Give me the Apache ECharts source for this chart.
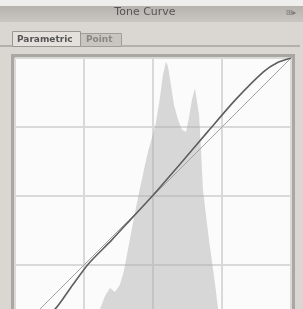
<!DOCTYPE html>
<html>
<head>
<meta charset="utf-8">
<script src="https://cdn.jsdelivr.net/npm/echarts@6/dist/echarts.min.js"></script>
<style>
html,body{margin:0;padding:0;overflow:hidden;background:#dad6d2;}
#c{width:303px;height:345px;}
</style>
</head>
<body>
<div id="c"></div>
<script>
// Tone curve panel data (percent of input / output range)
const panelTitle = 'Tone Curve';
const tabLabels = ['Parametric', 'Point'];
const gridTicks = [0, 25, 50, 75, 100];

// Histogram: input level (%) and relative count (% of max)
const histLevel = [20, 25, 28, 29.5, 30.8, 32.6, 34.4, 36.2, 38, 39.5, 40.9, 42.8, 44.9, 47.1, 48.2, 49.6, 51.1, 52.5, 53.6, 54.7, 55.4, 56.5, 57.6, 59.1, 60.5, 62, 63, 64.1, 65.2, 65.9, 66.7, 67.4, 68.1, 69.2, 70.3, 71.4, 72.5, 73.6, 75, 76.4, 80];
const histCount = [0, 1, 3, 6, 9, 13.8, 16.7, 15.2, 17.8, 23, 30.4, 40.6, 51, 61.2, 66, 71, 76.8, 85.5, 93.8, 98.6, 97, 90.2, 83, 77.5, 74, 73.2, 78.3, 84.8, 89, 88.4, 79.3, 66.7, 52.2, 43, 34, 26, 17.8, 9, 3, 0.5, 0];

// Tone curve: input (%) -> output (%)
const curveIn  = [0, 8, 14.5, 20, 26.5, 35, 42, 50, 60, 70, 80, 90, 95, 100];
const curveOut = [0, 4.5, 9, 16.5, 25.3, 34, 41.6, 50.3, 61.8, 73.5, 85, 95, 98.3, 100];

// Identity reference line
const identityIn  = [0, 100];
const identityOut = [0, 100];

const zip = (a, b) => a.map((v, i) => [v, b[i]]);

const chart = echarts.init(document.getElementById('c'), null, {renderer: 'canvas'});
chart.setOption({
  backgroundColor: '#dad6d2',
  animation: false,
  grid: {left: 15, top: 58, width: 276, height: 276, show: true,
         backgroundColor: '#fbfbfb', borderColor: '#8e8a86', borderWidth: 1.5},
  xAxis: {type: 'value', min: 0, max: 100, interval: 25,
          axisLine: {show: false}, axisTick: {show: false}, axisLabel: {show: false},
          splitLine: {show: true, lineStyle: {color: '#d9d9d9', width: 2}}},
  yAxis: [
    {type: 'value', min: 0, max: 100, interval: 25,
     axisLine: {show: false}, axisTick: {show: false}, axisLabel: {show: false},
     splitLine: {show: true, lineStyle: {color: '#d9d9d9', width: 2}}},
    {type: 'value', min: 0, max: 100, show: false, splitLine: {show: false}}
  ],
  series: [
    {type: 'line', yAxisIndex: 1, data: zip(histLevel, histCount), showSymbol: false,
     lineStyle: {width: 0}, areaStyle: {color: 'rgba(169,169,169,0.44)', opacity: 1}, z: 1, silent: true},
    {type: 'line', data: zip(identityIn, identityOut), showSymbol: false,
     lineStyle: {color: '#a2a2a2', width: 1}, z: 2, silent: true},
    {type: 'line', data: zip(curveIn, curveOut), smooth: 0.25, showSymbol: false,
     lineStyle: {color: '#5e5e5e', width: 1.6}, z: 3, silent: true}
  ],
  graphic: [
    {type: 'rect', shape: {x: 0, y: 0, width: 303, height: 6}, style: {fill: '#eeeeec'}},
    {type: 'rect', shape: {x: 0, y: 6, width: 303, height: 16},
     style: {fill: new echarts.graphic.LinearGradient(0, 0, 0, 1, [{offset: 0, color: '#b6b2ae'}, {offset: 1, color: '#cac6c2'}])}},
    {type: 'text', x: 145, y: 12, style: {text: panelTitle, fill: '#555', font: '11px "DejaVu Sans"', align: 'center', verticalAlign: 'middle'}},
    {type: 'text', x: 291, y: 13, style: {text: '⊞▸', fill: '#777', font: '8px "DejaVu Sans"', align: 'center', verticalAlign: 'middle'}},
    {type: 'line', shape: {x1: 122, y1: 46, x2: 300, y2: 46}, style: {stroke: '#8e8a86', lineWidth: 1}},
    {type: 'line', shape: {x1: 0, y1: 46, x2: 12, y2: 46}, style: {stroke: '#8e8a86', lineWidth: 1}},
    {type: 'rect', shape: {x: 80.5, y: 33.5, width: 41, height: 13}, style: {fill: '#c9c5c1', stroke: '#a09c98', lineWidth: 1}},
    {type: 'rect', shape: {x: 12.5, y: 31.5, width: 68, height: 15}, style: {fill: '#e4e0dc', stroke: '#9a9692', lineWidth: 1}},
    {type: 'text', x: 17, y: 40, style: {text: tabLabels[0], fill: '#555', font: 'bold 9px "DejaVu Sans"', verticalAlign: 'middle'}},
    {type: 'text', x: 86, y: 40, style: {text: tabLabels[1], fill: '#8a8682', font: 'bold 9px "DejaVu Sans"', verticalAlign: 'middle'}},
    {type: 'rect', shape: {x: 12.5, y: 55.5, width: 281, height: 300}, style: {fill: 'none', stroke: '#aaa6a2', lineWidth: 3}}
  ]
});
</script>
</body>
</html>
